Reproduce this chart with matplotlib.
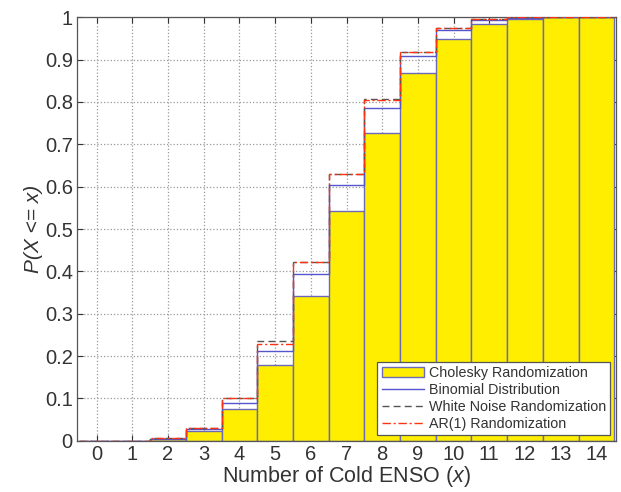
import matplotlib

matplotlib.use("Agg")

import matplotlib.pyplot as plt
import numpy as np

plt.rcParams["font.family"] = ["Liberation Sans", "DejaVu Sans"]
plt.rcParams["mathtext.fontset"] = "custom"
plt.rcParams["mathtext.rm"] = "Liberation Sans"
plt.rcParams["mathtext.it"] = "Liberation Sans:italic"

# cumulative probabilities
counts = np.arange(0, 15)
cholesky = [0.0, 0.0005, 0.005, 0.024, 0.075, 0.178, 0.343, 0.542, 0.727, 0.868, 0.949, 0.985, 0.995, 1.0, 1.0]
binomial = [0.0, 0.0003, 0.005, 0.029, 0.089, 0.212, 0.395, 0.604, 0.785, 0.909, 0.970, 0.994, 0.999, 1.0, 1.0]
white_noise = [0.0, 0.0005, 0.006, 0.031, 0.101, 0.236, 0.421, 0.629, 0.806, 0.918, 0.975, 0.996, 0.9995, 1.0, 1.0]
ar1 = [0.0, 0.0005, 0.006, 0.031, 0.100, 0.228, 0.421, 0.630, 0.804, 0.918, 0.974, 0.996, 0.9995, 1.0, 1.0]

edges = np.append(counts - 0.5, counts[-1] + 0.5)

fig = plt.figure(figsize=(6.21, 4.92), dpi=100)
ax = fig.add_axes([0.124, 0.104, 0.868, 0.861])

ax.grid(True, linestyle=":", color="#999999", linewidth=0.9)
ax.set_axisbelow(True)

h_chol = ax.bar(counts, cholesky, width=1.0, color="#ffee00", edgecolor="#6a6ab8",
                linewidth=1.0, label="Cholesky Randomization", zorder=2)
h_bin = ax.stairs(binomial, edges, baseline=None, color="#5555cc", linewidth=1.0,
                  label="Binomial Distribution", zorder=3)
h_wn = ax.stairs(white_noise, edges, baseline=None, color="#555555", linewidth=1.0,
                 linestyle=(0, (5, 3)), label="White Noise Randomization", zorder=3)
h_ar = ax.stairs(ar1, edges, baseline=None, color="#ff3311", linewidth=1.0,
                 linestyle=(0, (6, 2, 1.5, 2)), label="AR(1) Randomization", zorder=4)

ax.set_xlim(-0.55, 14.55)
ax.set_ylim(0, 1)
ax.set_xticks(counts)
ax.set_yticks(np.round(np.arange(0, 1.01, 0.1), 1))
ax.set_yticklabels(["0"] + [f"{v:.1f}" for v in np.arange(0.1, 0.95, 0.1)] + ["1"])
ax.tick_params(direction="in", top=True, right=True, labelsize=14.5,
               colors="#333333", length=4, width=0.8, pad=3)
for spine in ax.spines.values():
    spine.set_color("#555555")
    spine.set_linewidth(0.9)

ax.set_xlabel("Number of Cold ENSO $\\it{(x)}$", fontsize=15.5, color="#333333", labelpad=0)
ax.set_ylabel("P(X <= x)", fontsize=15, fontstyle="italic", color="#333333", labelpad=1)

leg = ax.legend([h_chol, h_bin, h_wn, h_ar],
                ["Cholesky Randomization", "Binomial Distribution",
                 "White Noise Randomization", "AR(1) Randomization"],
                loc="lower right", fontsize=10.3, frameon=True, fancybox=False,
                borderaxespad=0.4, handlelength=3.0, handletextpad=0.3,
                labelspacing=0.2, borderpad=0.3)
leg.get_frame().set_edgecolor("#555555")
leg.get_frame().set_linewidth(0.9)
leg.get_frame().set_alpha(1.0)
for text in leg.get_texts():
    text.set_color("#333333")

fig.savefig("out.png", dpi=100)
